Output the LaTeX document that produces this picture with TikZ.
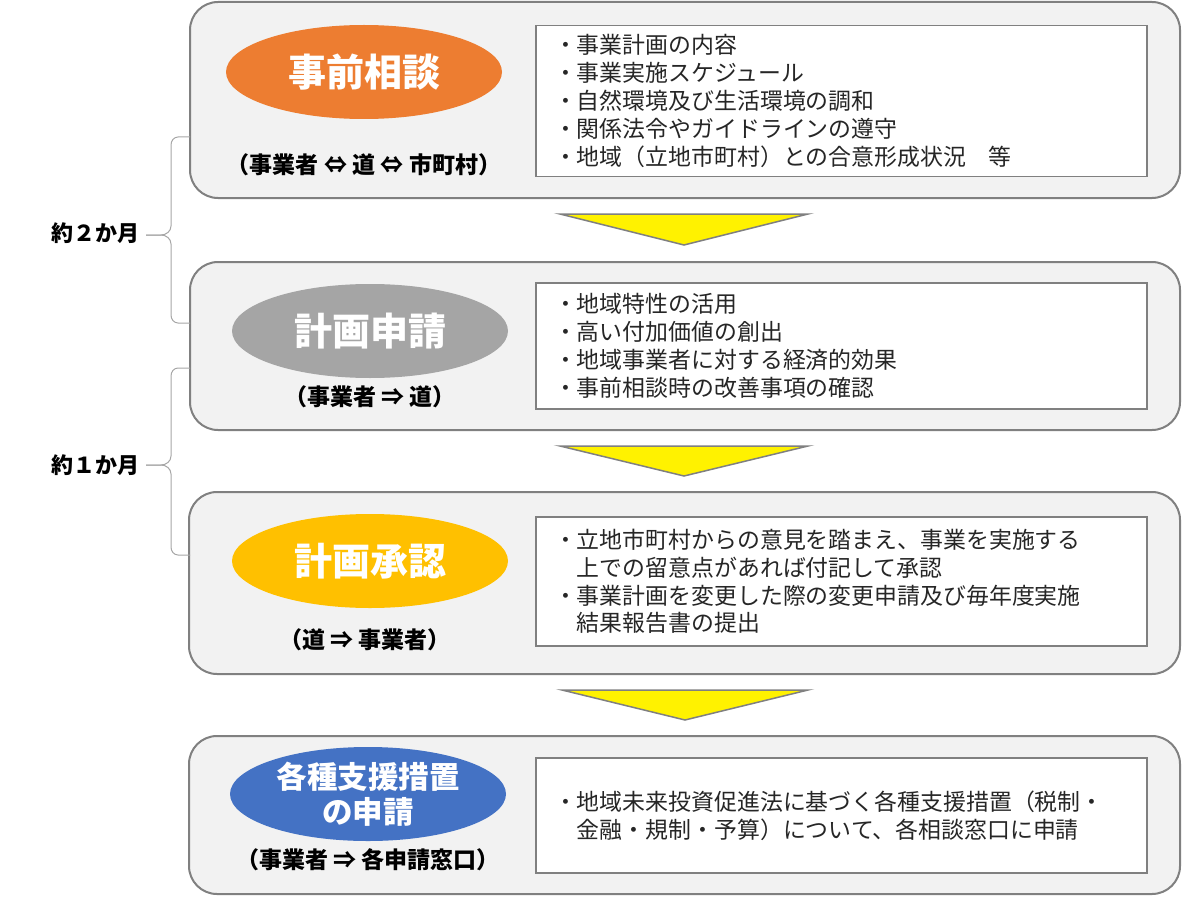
\documentclass[tikz,border=0pt]{standalone}
\usepackage{fontspec}
\setmainfont{Noto Sans CJK JP}
\usetikzlibrary{shapes.geometric}
\definecolor{boxfill}{HTML}{F2F2F2}
\definecolor{boxline}{HTML}{808080}
\definecolor{eorange}{HTML}{ED7D31}
\definecolor{egray}{HTML}{A5A5A5}
\definecolor{egold}{HTML}{FFC000}
\definecolor{eblue}{HTML}{4472C4}
\definecolor{bodytext}{HTML}{262626}
\definecolor{bracecol}{HTML}{A6A6A6}
\tikzset{
  outerbox/.style={draw=boxline, fill=boxfill, line width=2pt, rounded corners=28pt, minimum width=990pt, inner sep=0pt},
  infobox/.style={draw=boxline, fill=white, line width=1.5pt, minimum width=611pt, inner xsep=18pt, inner ysep=0pt, text width=575pt, align=left, text=bodytext, font=\fontsize{22.9}{27.8}\selectfont},
  titleell/.style={ellipse, minimum width=276pt, minimum height=94pt, inner sep=0pt, text=white, font=\bfseries\fontsize{38}{42}\selectfont, align=center},
  sublabel/.style={font=\bfseries\fontsize{23}{26}\selectfont, inner sep=0pt},
  sidelabel/.style={font=\bfseries\fontsize{22}{25}\selectfont, inner sep=0pt},
  downarrow/.style={draw=boxline, fill=yellow, line width=1.5pt, line join=miter},
  bracestyle/.style={draw=bracecol, line width=1pt}
}
\begin{document}
\begin{tikzpicture}[x=1pt, y=-1pt]
\useasboundingbox (0,0) rectangle (1182,896);

% outer boxes
\node[outerbox, minimum height=196pt] (o1) at (685,100) {};
\node[outerbox, minimum height=168pt] (o2) at (685,346) {};
\node[outerbox, minimum width=991pt, minimum height=182pt] (o3) at (684.5,583) {};
\node[outerbox, minimum width=991pt, minimum height=158pt] (o4) at (684.5,815) {};

% ellipses
\node[titleell, fill=eorange] (e1) at (364,72) {事前相談};
\node[titleell, fill=egray] (e2) at (370,331) {計画申請};
\node[titleell, fill=egold] (e3) at (370,561) {計画承認};
\node[titleell, fill=eblue, font=\bfseries\fontsize{30.5}{35}\selectfont] (e4) at (368,794) {各種支援措置\\の申請};

% sub labels
\node[sublabel] (s1) at (364,165) {（事業者 ⇔ 道 ⇔ 市町村）};
\node[sublabel] (s2) at (370,397) {（事業者 ⇒ 道）};
\node[sublabel] (s3) at (365,640) {（道 ⇒ 事業者）};
\node[sublabel] (s4) at (368,860) {（事業者 ⇒ 各申請窓口）};

% info boxes
\node[infobox, minimum height=151pt] (b1) at (841.5,101) {・事業計画の内容\\・事業実施スケジュール\\・自然環境及び生活環境の調和\\・関係法令やガイドラインの遵守\\・地域（立地市町村）との合意形成状況　等};
\node[infobox, minimum height=126pt] (b2) at (841.5,346) {・地域特性の活用\\・高い付加価値の創出\\・地域事業者に対する経済的効果\\・事前相談時の改善事項の確認};
\node[infobox, minimum height=129pt] (b3) at (841.5,581.5) {・立地市町村からの意見を踏まえ、事業を実施する\\　上での留意点があれば付記して承認\\・事業計画を変更した際の変更申請及び毎年度実施\\　結果報告書の提出};
\node[infobox, minimum height=115pt] (b4) at (841.5,815.5) {・地域未来投資促進法に基づく各種支援措置（税制・\\　金融・規制・予算）について、各相談窓口に申請};

% down arrows
\draw[downarrow] (560,214) -- (808,214) -- (684,245) -- cycle;
\draw[downarrow] (560,446) -- (808,446) -- (684,476) -- cycle;
\draw[downarrow] (562,690) -- (808,690) -- (685,720) -- cycle;

% side labels
\node[sidelabel, anchor=east] (l1) at (140,233) {約２か月};
\node[sidelabel, anchor=east] (l2) at (140,465) {約１か月};

% braces
\coordinate (t1) at (190,137);
\coordinate (m1) at (146,235);
\coordinate (u1) at (190,323);
\draw[bracestyle] (t1) -- (178,137) to[out=180,in=90] (171,145) -- (171,226)
  to[out=-90,in=0] (161,235) -- (m1);
\draw[bracestyle] (m1) -- (161,235) to[out=0,in=90] (171,244) -- (171,315)
  to[out=-90,in=180] (178,323) -- (u1);
\coordinate (t2) at (190,368);
\coordinate (m2) at (146,465);
\coordinate (u2) at (190,555);
\draw[bracestyle] (t2) -- (178,368) to[out=180,in=90] (171,376) -- (171,456)
  to[out=-90,in=0] (161,465) -- (m2);
\draw[bracestyle] (m2) -- (161,465) to[out=0,in=90] (171,474) -- (171,547)
  to[out=-90,in=180] (178,555) -- (u2);
\end{tikzpicture}
\end{document}
